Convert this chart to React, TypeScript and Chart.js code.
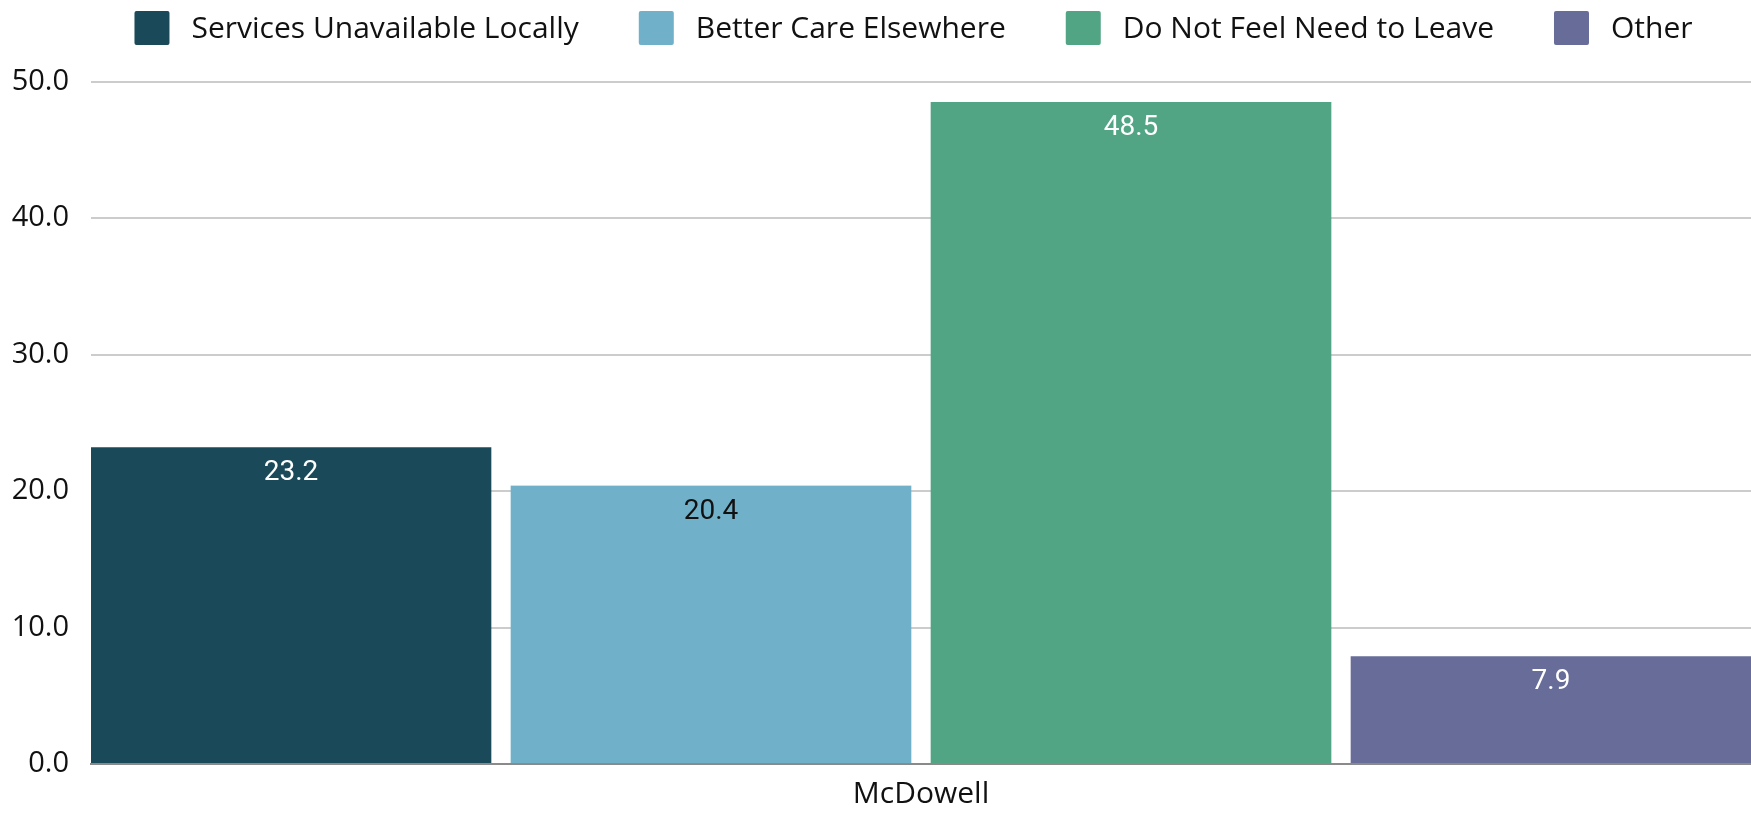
import React, { useEffect, useRef } from "react";
import { Chart, registerables } from "chart.js";

Chart.register(...registerables);

const categories = ["McDowell"];
const seriesNames = [
  "Services Unavailable Locally",
  "Better Care Elsewhere",
  "Do Not Feel Need to Leave",
  "Other",
];
const servicesUnavailable = [23.2];
const betterCare = [20.4];
const doNotFeelNeed = [48.5];
const otherReason = [7.9];
const yMin = 0;
const yMax = 50;
const yStep = 10;

const seriesValues = [servicesUnavailable, betterCare, doNotFeelNeed, otherReason];
const colors = ["#1A4A5A", "#71B0C9", "#51A584", "#676D98"];
const labelColors = ["#ffffff", "#111111", "#ffffff", "#ffffff"];

const LEGEND_FONT = "30px 'Open Sans', sans-serif";
const LABEL_FONT = "28px Roboto, sans-serif";

const customLegend = {
  id: "customLegend",
  afterDraw(chart: any) {
    const ctx = chart.ctx;
    ctx.save();
    ctx.font = LEGEND_FONT;
    const boxW = 35;
    const boxH = 34;
    const boxGap = 22;
    const itemGap = 60;
    const items = chart.data.datasets.map((ds: any) => ({
      text: ds.label,
      color: ds.backgroundColor,
      w: ctx.measureText(ds.label).width,
    }));
    const total =
      items.reduce((s: number, it: any) => s + boxW + boxGap + it.w, 0) +
      itemGap * (items.length - 1);
    let x = 913.5 - total / 2;
    const boxTop = 11;
    items.forEach((it: any) => {
      ctx.fillStyle = it.color;
      ctx.beginPath();
      (ctx as any).roundRect
        ? (ctx as any).roundRect(x, boxTop, boxW, boxH, 2)
        : ctx.rect(x, boxTop, boxW, boxH);
      ctx.fill();
      ctx.fillStyle = "#111111";
      ctx.textAlign = "left";
      ctx.textBaseline = "alphabetic";
      ctx.fillText(it.text, x + boxW + boxGap, 38);
      x += boxW + boxGap + it.w + itemGap;
    });
    ctx.restore();
  },
};

const valueLabels = {
  id: "valueLabels",
  afterDatasetsDraw(chart: any) {
    const ctx = chart.ctx;
    ctx.save();
    ctx.font = LABEL_FONT;
    ctx.textAlign = "center";
    ctx.textBaseline = "alphabetic";
    chart.data.datasets.forEach((ds: any, di: number) => {
      const meta = chart.getDatasetMeta(di);
      meta.data.forEach((el: any, i: number) => {
        const bw = el.options.borderWidth;
        const l = typeof bw === "object" ? bw.left || 0 : bw || 0;
        const r = typeof bw === "object" ? bw.right || 0 : bw || 0;
        const left = el.x - el.width / 2 + l;
        const right = el.x + el.width / 2 - r;
        const cx = (left + right) / 2;
        const v = ds.data[i];
        ctx.fillStyle = labelColors[di];
        ctx.fillText(v.toFixed(1), cx, el.y + 33);
      });
    });
    ctx.restore();
  },
};

export default function App() {
  const canvasRef = useRef<HTMLCanvasElement | null>(null);

  useEffect(() => {
    if (!canvasRef.current) return;
    const n = seriesNames.length;
    const chart = new Chart(canvasRef.current, {
      type: "bar",
      data: {
        labels: categories,
        datasets: seriesNames.map((name, k) => ({
          label: name,
          data: seriesValues[k],
          backgroundColor: colors[k],
          borderColor: "rgba(0,0,0,0)",
          borderWidth: { left: 5 * k, right: 5 * (n - 1 - k), top: 0, bottom: 0 },
          borderSkipped: false,
          barPercentage: 1,
          categoryPercentage: 1,
        })),
      },
      options: {
        animation: false,
        responsive: true,
        maintainAspectRatio: false,
        layout: { padding: { top: 81.5, left: 0, right: 0, bottom: 0 } },
        plugins: {
          legend: { display: false },
          tooltip: { enabled: false },
        },
        scales: {
          x: {
            grid: { display: false, drawTicks: false },
            border: { display: true, color: "#8a8a8a", width: 2 },
            ticks: {
              font: { family: "'Open Sans', sans-serif", size: 30 },
              color: "#111111",
              padding: 12,
            },
            afterFit(scale: any) {
              scale.height = 50;
            },
          },
          y: {
            min: yMin,
            max: yMax,
            ticks: {
              stepSize: yStep,
              font: { family: "'Open Sans', sans-serif", size: 29 },
              color: "#111111",
              padding: 22,
              callback: (v: any) => Number(v).toFixed(1),
            },
            grid: { color: "#cccccc", lineWidth: 2, drawTicks: false },
            border: { display: false },
            afterFit(scale: any) {
              scale.width = 91;
            },
          },
        },
      },
      plugins: [valueLabels, customLegend],
    });
    return () => chart.destroy();
  }, []);

  return (
    <div style={{ position: "absolute", left: 0, top: 0, width: 1751, height: 814 }}>
      <canvas ref={canvasRef} />
    </div>
  );
}
